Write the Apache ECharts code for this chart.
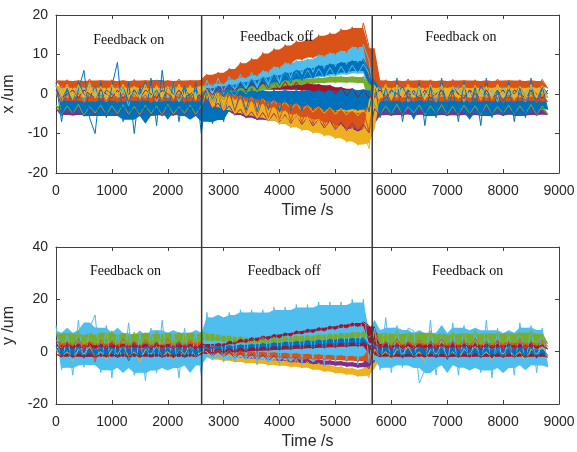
<!DOCTYPE html>
<html><head><meta charset="utf-8">
<script src="https://cdn.jsdelivr.net/npm/echarts@6/dist/echarts.min.js"></script>
<style>html,body{margin:0;padding:0;background:#fff}#c{width:577px;height:452px}</style>
</head><body><div id="c"></div>
<script>
// ---- time stamps (s) ----
const time = [0,100,200,300,400,500,600,700,800,900,1000,1100,1200,1300,1400,1500,1600,1700,1800,1900,2000,2100,2200,2300,2400,2500,2600,
2700,2800,2900,3000,3100,3200,3300,3400,3500,3600,3700,3800,3900,4000,4100,4200,4300,4400,4500,4600,4700,4800,4900,5000,5100,5200,5300,5400,5500,5600,
5700,5800,5900,6000,6100,6200,6300,6400,6500,6600,6700,6800,6900,7000,7100,7200,7300,7400,7500,7600,7700,7800,7900,8000,8100,8200,8300,8400,8500,8600,8700,8800];

// feedback switching times (s)
const switchTimes = [2606, 5658];
const phaseLabels = ['Feedback on', 'Feedback off', 'Feedback on'];

// ---- x /um series (top panel) ----
const xLightBlue1 = [1,-2,2,-1,1,-2,3,-1,0,-2,2,-1,1,-3,2,0,-1,2,-2,1,-1,3,-2,1,-1,2,-2,
3.5,0,4,0.5,4.5,1,5,1.5,5.5,2,6,2.5,7,3,8,4,8.5,5,9,5.5,10,6.5,10.5,7,11,7.5,12,8,12.5,8.5,
-1,2,-2,1,-1,2,-2,0,2,-1,1,-2,2,-1,0,2,-2,1,-1,2,-1,1,-2,2,0,-1,1,-2,2,-1,1,0];
const xLightBlue2 = [0,2,-1,1,0,2,-1,1,-1,1,0,2,-1,1,0,1,-1,2,0,1,-1,2,0,1,-1,1,0,
1.7,-0.4,2.2,0.1,2.8,0.7,3.4,1.3,4,1.8,4.5,2.3,5,2.8,5.4,3.2,5.7,3.5,6.1,3.8,6.4,4.2,6.7,4.5,7,4.8,7.3,5.1,7.6,5.3,
1,-1,2,0,1,-1,2,0,1,-1,1,0,2,-1,1,0,2,-1,1,0,1,-1,2,0,1,-1,1,0,2,-1,1,0];
const xRed = [1,-1,0,1,-1,1,0,-1,1,0,-1,1,-1,0,1,-1,1,0,-1,1,0,-1,1,-1,0,1,-1,
1.5,-0.3,2,0.5,2.3,0.8,2.6,1,2.8,1.2,3,1,3,1,3.2,1,3,0.8,2.8,0.6,2.6,0.4,2.3,0,1.8,-0.5,1.4,-0.8,1,-1,
0,1,-1,1,0,-1,1,0,-1,1,-1,0,1,-1,1,0,-1,1,0,-1,1,-1,0,1,-1,1,0,-1,1,0,-1,1];
const xYellow2 = [2,-1,2.5,-1.5,2,-1,2.5,-1,2,-1.5,2,-1,2.5,-1.5,2,-1,2.5,-1,2,-1.5,2,-1,2.5,-1,2,-1.5,2,
0.8,-1,0.4,-1.4,0,-1.8,-0.4,-2.2,-0.8,-2.6,-1.2,-3,-1.6,-3.4,-2,-3.8,-2.4,-4.2,-2.8,-4.6,-3.2,-4.9,-3.4,-5.1,-3.6,-5.3,-3.8,-5.5,-4,-5.8,
2,-1,2.5,-1.5,2,-1,2.5,-1,2,-1.5,2,-1,2.5,-1.5,2,-1,2.5,-1,2,-1.5,2,-1,2.5,-1,2,-1.5,2,-1,2.5,-1,2,-1];
const xBlue2 = [2,-1,1,-2,3,0,-1,2,-2,1,0,-1,2,-2,1,0,3,-1,1,-2,2,0,-1,2,-1,1,-2,
1.5,-1.3,2,-0.7,2.5,-0.2,3.1,0.4,3.7,1,4.3,1.6,4.9,2.2,5.5,2.8,6.1,3.4,6.7,4,7.3,4.5,7.7,4.9,8.1,5.3,8.5,5.7,8.9,6,
-1,2,-2,1,0,2,-1,1,-2,0,2,-1,1,-2,2,0,-1,1,-2,2,0,-1,1,-2,1,0,2,-1,1,-2,2,0];
const xGreen = [-2.8,-5.2,-3,-5,-2.6,-5.4,-3.2,-4.8,-2.8,-5.3,-3,-5,-2.7,-5.2,-3.1,-5.3,-2.8,-5,-3,-5.4,-2.6,-5.1,-3.2,-4.9,-2.8,-5.2,-3,
0,-2,0.5,-1.5,1,-0.5,1.5,0,2,0.5,2.5,1,3,1.5,3.5,2,3.8,2.2,4,2.5,4.2,2.7,4.5,2.8,4.5,2.8,4.4,2.7,4.5,2.6,
-2.8,-5.2,-3,-5,-2.6,-5.4,-3.2,-4.8,-2.8,-5.3,-3,-5,-2.7,-5.2,-3.1,-5.3,-2.8,-5,-3,-5.4,-2.6,-5.1,-3.2,-4.9,-2.8,-5.2,-3,-5,-2.7,-5.3,-3,-5];
const xPurple = [-3.7,-5.5,-3.9,-5.4,-3.6,-5.6,-4,-5.3,-3.7,-5.6,-3.9,-5.4,-3.6,-5.5,-4,-5.6,-3.7,-5.4,-3.9,-5.6,-3.6,-5.5,-4,-5.3,-3.7,-5.5,-3.9,
-1.5,-3.9,-2.3,-4.6,-3,-5.4,-3.8,-6.1,-4.5,-6.6,-4.7,-6.8,-4.9,-7.1,-5.2,-7.4,-5.5,-7.7,-5.9,-8.1,-6.4,-8.6,-6.8,-9,-7.1,-9.3,-7.4,-9.5,-7.7,-9.8,
-3.7,-5.5,-3.9,-5.4,-3.6,-5.6,-4,-5.3,-3.7,-5.6,-3.9,-5.4,-3.6,-5.5,-4,-5.6,-3.7,-5.4,-3.9,-5.6,-3.6,-5.5,-4,-5.3,-3.7,-5.5,-3.9,-5.4,-3.6,-5.6,-4,-5.3];
const xBlue = [3,-7,2,-5,1,6,-6,-10,3,-6,2,8,-7,3,-10,2,-6,4,-8,6,-5,3,-7,2,-6,3,-10,
1.5,-7.5,1,-7,1.2,-4.5,0.8,-4.2,1.5,-4.5,1,-4,1.2,-4.6,1,-4.2,1.4,-4.3,1,-4,1.2,-4.4,1,-4.5,1.3,-4.2,1.5,-4.3,1.2,-4.5,
3,-6,2,-5,4,-7,1,-4,3,-8,2,-6,4,-5,1,-7,3,-5,2,-8,4,-6,1,-5,3,-7,2,-6,4,-5,2,-4];
const xOrangeDown = [0,-2,-0.2,-1.8,0.2,-2.2,0,-2,-0.3,-1.8,0,-2.2,0.2,-2,0,-1.8,-0.2,-2.2,0,-2,0.2,-1.8,0,-2.2,-0.2,-2,0,
1.3,-3.55,0.8,-4.05,0.3,-4.55,-0.2,-5.05,-0.7,-5.55,-1.2,-6,-1.6,-6.4,-2,-6.8,-2.4,-7.2,-2.8,-7.6,-3.2,-8.1,-3.7,-8.5,-4,-8.8,-4.3,-9.1,-4.6,-9.3,
0,-2,-0.2,-1.8,0.2,-2.2,0,-2,-0.3,-1.8,0,-2.2,0.2,-2,0,-1.8,-0.2,-2.2,0,-2,0.2,-1.8,0,-2.2,-0.2,-2,0,-1.8,0.2,-2.2,0,-2];
const xYellow = [2.2,-1,2,-1.2,2.4,-0.8,2.2,-1,2,-1.2,2.4,-1,2.2,-0.8,2,-1.2,2.4,-1,2.2,-0.8,2,-1.2,2.4,-1,2.2,-1,2,
1,-3.4,0.2,-4.2,-0.6,-5,-1.3,-5.6,-1.9,-6.2,-2.5,-6.9,-3.3,-7.8,-4.2,-8.6,-5,-9.3,-5.7,-10,-6.3,-10.7,-7,-11.4,-7.8,-12.2,-8.6,-13,-9.4,-13.8,
2.2,-1,2,-1.2,2.4,-0.8,2.2,-1,2,-1.2,2.4,-1,2.2,-0.8,2,-1.2,2.4,-1,2.2,-0.8,2,-1.2,2.4,-1,2.2,-1,2,-1.2,2.4,-0.8,2.2,-1];
const xOrangeUp = [3.5,1.5,3.6,1.4,3.4,1.6,3.8,1.5,3.5,1.3,3.6,1.5,3.4,1.6,3.7,1.4,3.5,1.5,3.6,1.3,3.4,1.6,3.8,1.5,3.5,1.4,3.6,
5,2,5.5,2.5,6.5,3.5,8,4,9,4.5,10.5,5.5,11.5,6.5,12.5,7.5,13.5,8.5,14,9,15,9.5,15.5,10,16.5,10.5,17,11.5,18,12,
3.5,1.5,3.6,1.4,3.4,1.6,3.8,1.5,3.5,1.3,3.6,1.5,3.4,1.6,3.7,1.4,3.5,1.5,3.6,1.3,3.4,1.6,3.8,1.5,3.5,1.4,3.6,1.5,3.4,1.6,3.7,1.4];

// ---- y /um series (bottom panel) ----
const yYellow = [1,-2,0,-4,1,-1,2,-2,0,-3,1,-1,2,-2,0,-4,1,-1,2,-2,0,-3,1,-1,2,-2,0,
0,-3.2,-0.4,-3.6,-0.8,-4.1,-1.3,-4.5,-1.7,-4.8,-2,-5.2,-2.3,-5.5,-2.7,-5.9,-3,-6.3,-3.7,-7,-4.3,-7.7,-5,-8.3,-5.6,-8.9,-6.2,-9.5,-6.8,-10,
1,-2,0,-3,1,-1,2,-2,0,-4,1,-1,2,-2,0,-3,1,-1,2,-2,0,-3,1,-1,2,-2,0,-4,1,-1,2,-2];
const yPurple = [3,0.5,3.5,1,2.5,0,3.5,1,3,0.5,4,1,2.5,0.5,3.5,0,3,1,3.5,0.5,2.5,1,4,0.5,3,1,3,
0.5,-1.7,0.2,-2,-0.2,-2.4,-0.5,-2.7,-0.9,-3,-1.2,-3.4,-1.6,-3.7,-1.9,-4.1,-2.2,-4.4,-2.6,-4.8,-2.9,-5.1,-3.3,-5.4,-3.6,-5.8,-4,-6.1,-4.3,-6.5,
3,0.5,3.5,1,2.5,0,3.5,1,3,0.5,4,1,2.5,0.5,3.5,0,3,1,3.5,0.5,2.5,1,4,0.5,3,1,3,0.5,3.5,1,2.5,1];
const yLightBlue = [10,-7,8,-9,12,-6,9,14,-8,10,-10,8,-7,11,-9,7,-11,9,-8,12,-7,8,-10,9,-6,8,-9,
15,-3,14,-4,15,-4,16,-3,16,-5,16,-4,17,-5,17,-4,18,-5,18,-4,19,-5,19,-4,19,-4,20,-5,20,-4,
9,-7,13,-8,10,-6,9,8,-12,-7,12,-9,8,-6,11,-9,10,-7,9,-8,12,-10,9,-7,8,-9,11,-6,10,-8,9,-6];
const yOrange = [4.5,1.5,4,2,5,1.5,4,-4,4.5,2,4,1.5,5,2,4,1.5,4.5,2,4,1,5,2,4,1.5,4.5,2,4,
1,-1,0.8,-1.3,0.6,-1.5,0.4,-1.8,0.2,-2,0,-2.2,-0.2,-2.4,-0.4,-2.6,-0.6,-2.8,-0.8,-3,-1,-3.2,-1.2,-3.4,-1.4,-3.6,-1.6,-3.8,-1.8,-4,
4.5,1.5,4,2,5,1.5,4,2,4.5,1,4,2,5,1.5,4,2,4.5,1.5,5,2,4,1.5,4.5,2,4,1,5,1.5,4,2,4.5,2];
const yGreen = [7.5,3,7,2.5,8,3.5,6.5,2.5,7.5,3,8,3,6.5,2.5,7.5,3.5,7,2.5,8,3,7,2.5,7.5,3,7,3.5,7.5,
7,4,6.5,3.7,6.2,3.4,5.8,3,5.5,3,5.5,3.2,5.7,3.4,5.9,3.6,6.1,3.8,6.3,4,6.6,4.3,6.9,4.6,7.2,4.9,7.5,5.2,7.8,5.4,
7.5,3,7,2.5,8,3.5,7,2.5,7.5,3,8,3,6.5,2.5,7.5,3.5,7,2.5,8,3,7,2.5,7.5,3,7,3.5,7.5,3,8,2.5,7,3];
const yBlue = [2,-2,1.5,-1.5,2,-2.5,1,-2,2,-1.5,1.5,-2,2,-3.5,1,-2,2,-1.5,1.5,-2,2,-2.5,1,-2,2,-1.5,1.5,
2,-1,2.2,-0.6,2.5,-0.4,2.8,-0.1,3,0.2,3.3,0.4,3.6,0.7,3.8,1,4.1,1.2,4.4,1.5,4.6,1.8,4.9,2,5.1,2.2,5.3,2.4,5.5,2.5,
2,-2,1.5,-1.5,2,-2.5,1,-2,2,-1.5,1.5,-2,2,-3,1,-2,2,-1.5,1.5,-2,2,-2.5,1,-2,2,-1.5,1.5,-2,2,-2.5,1,-1.5];
const yRed1 = [2.5,1,3,1.5,2.5,1,3,1.5,2.5,1,3,1.5,2.5,1,3,1.5,2.5,1,3,1.5,2.5,1,3,1.5,2.5,1,3,
2.3,1.2,3.2,2,4,2.8,4.8,3.5,5.4,4.1,6,4.7,6.6,5.3,7.2,6,8,6.7,8.6,7.3,9.2,7.9,9.8,8.5,10.4,9.1,11,9.6,11.4,10,
3,1.5,2.5,1,3,1.5,2.5,1,3,1.5,2.5,1,3,1.5,2.5,1,3,1.5,2.5,1,3,1.5,2.5,1,3,1.5,2.5,1,3,1.5,2.5,1];
const yRed2 = [-1,-2,-0.8,-2.2,-1,-2,-0.8,-2.2,-1,-2,-0.8,-2.2,-1,-2,-0.8,-2.2,-1,-2,-0.8,-2.2,-1,-2,-0.8,-2.2,-1,-2,-0.8,
0.8,-0.6,1,-0.4,1.2,-0.2,1.4,0,1.6,0.2,1.8,0.4,2,0.6,2.2,0.8,2.4,1,2.6,1.2,2.8,1.4,3,1.6,3.2,1.8,3.4,2,3.6,2.2,
-1,-2,-0.8,-2.2,-1,-2,-0.8,-2.2,-1,-2,-0.8,-2.2,-1,-2,-0.8,-2.2,-1,-2,-0.8,-2.2,-1,-2,-0.8,-2.2,-1,-2,-0.8,-2.2,-1,-2,-0.8,-2.2];

// ---- styling ----
const C = {blue:'#0072BD', orange:'#D95319', yellow:'#EDB120', purple:'#7E2F8E', green:'#77AC30', lblue:'#4DBEEE', red:'#A2142F'};
// drawing order: later traces on top
const topSeries = [
  [xLightBlue1, C.lblue], [xLightBlue2, C.lblue], [xRed, C.red], [xYellow2, C.yellow], [xBlue2, C.blue],
  [xGreen, C.green], [xPurple, C.purple], [xBlue, C.blue], [xOrangeDown, C.orange], [xYellow, C.yellow], [xOrangeUp, C.orange]
];
const bottomSeries = [
  [yYellow, C.yellow], [yPurple, C.purple], [yLightBlue, C.lblue], [yOrange, C.orange], [yGreen, C.green],
  [yBlue, C.blue], [yRed1, C.red], [yRed2, C.red]
];

const axisColor = '#404040';
const textColor = '#262626';
const font = 'Liberation Sans, Arial, sans-serif';

function xAx(grid, pos, withLabels) {
  return {
    type:'value', gridIndex:grid, position:pos, min:0, max:9000, interval:1000,
    axisLine:{show:true, onZero:false, lineStyle:{color:axisColor, width:1}},
    axisTick:{show:true, inside:true, length:4, lineStyle:{color:axisColor}},
    axisLabel:{show:withLabels, fontSize:14, color:textColor, fontFamily:font, margin:11,
      formatter: v => String(v), hideOverlap:false},
    splitLine:{show:false},
    name: withLabels ? 'Time /s' : '', nameLocation:'middle', nameGap:30,
    nameTextStyle:{fontSize:16, color:textColor, fontFamily:font}
  };
}
function yAx(grid, pos, withLabels, min, max, interval, name) {
  return {
    type:'value', gridIndex:grid, position:pos, min:min, max:max, interval:interval,
    axisLine:{show:true, onZero:false, lineStyle:{color:axisColor, width:1}},
    axisTick:{show:true, inside:true, length:4, lineStyle:{color:axisColor}},
    axisLabel:{show:withLabels, fontSize:14, color:textColor, fontFamily:font, margin:8,
      formatter: v => String(v)},
    splitLine:{show:false},
    name: withLabels ? name : '', nameLocation:'middle', nameGap:34,
    nameTextStyle:{fontSize:16, color:textColor, fontFamily:font}
  };
}

// Each trace: a filled core band (robust local envelope of its own values, ignoring single spikes)
// plus the raw trace line whose excursions poke out of the band.
const CORE = 0.9;
function addTrace(series, vals, col, axIdx) {
  const n = vals.length;
  const band = [];
  for (let i = 0; i < n; i++) {
    const w = vals.slice(Math.max(0, i-2), Math.min(n, i+3)).sort((a,b)=>a-b);
    const lo = w[1], hi = w[w.length-2];
    const c = (lo + hi) / 2, h = (hi - lo) / 2 * CORE;
    band.push([time[i], c - h, c + h]);
  }
  series.push({
    type:'custom', xAxisIndex:axIdx, yAxisIndex:axIdx, silent:true,
    data: band, encode:{x:0, y:[1,2]},
    renderItem: function (params, api) {
      if (params.dataIndex !== 0) return null;
      const pts = [];
      for (let i = 0; i < band.length; i++) pts.push(api.coord([band[i][0], band[i][2]]));
      for (let i = band.length - 1; i >= 0; i--) pts.push(api.coord([band[i][0], band[i][1]]));
      return {type:'polygon', shape:{points:pts}, style:{fill:col, stroke:null}};
    }
  });
  series.push({type:'line', xAxisIndex:axIdx, yAxisIndex:axIdx,
    data: time.map((t,i)=>[t, vals[i]]), showSymbol:false, symbol:'none',
    lineStyle:{width:1, color:col}, itemStyle:{color:col}, silent:true});
}

const series = [];
topSeries.forEach(([vals, col]) => addTrace(series, vals, col, 0));
bottomSeries.forEach(([vals, col]) => addTrace(series, vals, col, 2));

const chart = echarts.init(document.getElementById('c'), null, {renderer:'canvas'});
chart.setOption({
  animation:false,
  backgroundColor:'#fff',
  grid:[
    {left:56, top:15, width:503, height:158, containLabel:false, outerBoundsMode:'none'},
    {left:56, top:247, width:503, height:157, containLabel:false, outerBoundsMode:'none'}
  ],
  xAxis:[xAx(0,'bottom',true), xAx(0,'top',false), xAx(1,'bottom',true), xAx(1,'top',false)],
  yAxis:[
    yAx(0,'left',true,-20,20,10,'x /um'), yAx(0,'right',false,-20,20,10,''),
    yAx(1,'left',true,-20,40,20,'y /um'), yAx(1,'right',false,-20,40,20,'')
  ],
  series: series
});

// annotations placed in data coordinates
const topLabelPos = [[1302, 13.67], [3948, 14.25], [7245, 14.43]];
const bottomLabelPos = [[1243, 30.7], [4081, 30.7], [7365, 30.7]];
const graphics = [];
switchTimes.forEach(t => {
  const p1 = chart.convertToPixel({gridIndex:0}, [t, 20]);
  const p2 = chart.convertToPixel({gridIndex:1}, [t, -20]);
  graphics.push({type:'line', z:100, shape:{x1:p1[0], y1:p1[1], x2:p2[0], y2:p2[1]},
    style:{stroke:'#3a3a3a', lineWidth:1.5}});
});
topLabelPos.forEach((pos, i) => {
  const p = chart.convertToPixel({gridIndex:0}, pos);
  graphics.push({type:'text', z:101, x:p[0], y:p[1], style:{text:phaseLabels[i], fill:'#111',
    font:'14px "Liberation Serif", "Times New Roman", serif', textAlign:'center', textVerticalAlign:'middle'}});
});
bottomLabelPos.forEach((pos, i) => {
  const p = chart.convertToPixel({gridIndex:1}, pos);
  graphics.push({type:'text', z:101, x:p[0], y:p[1], style:{text:phaseLabels[i], fill:'#111',
    font:'14px "Liberation Serif", "Times New Roman", serif', textAlign:'center', textVerticalAlign:'middle'}});
});
chart.setOption({graphic: graphics});
</script>
</body></html>
